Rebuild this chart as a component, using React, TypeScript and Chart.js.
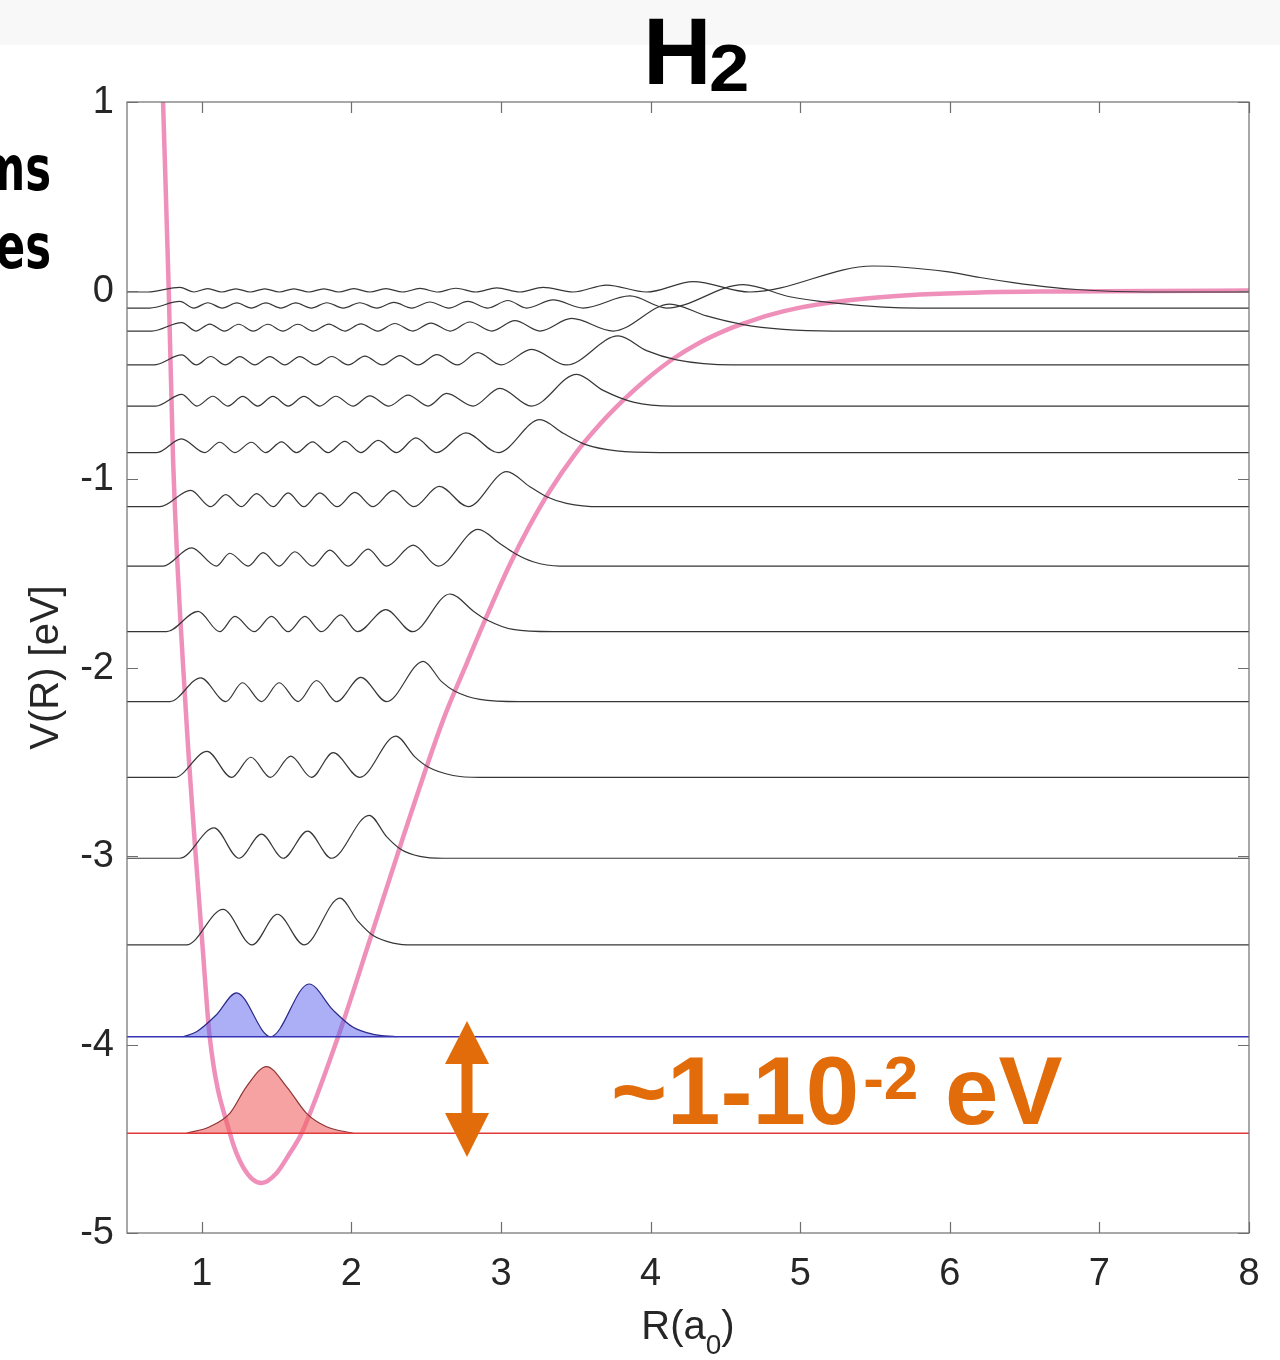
import React, { useEffect, useRef } from "react";
import { Chart, registerables } from "chart.js";

Chart.register(...registerables);

// ---------- axes ----------
const X_MIN = 0.5;
const X_MAX = 8;
const Y_MIN = -5;
const Y_MAX = 1;
const xTickValues = [1, 2, 3, 4, 5, 6, 7, 8];
const yTickValues = [1, 0, -1, -2, -3, -4, -5];

// ---------- potential curve V(R) (pink) ----------
const potentialR = [0.73, 0.741, 0.779, 0.808, 0.893, 0.96, 1.007, 1.053, 1.187, 1.276, 1.399, 1.499, 1.588, 1.667, 1.911, 2.123, 2.346, 2.613, 2.758, 2.904, 3.059, 3.193, 3.327, 3.494, 3.661, 3.828, 3.975, 4.151, 4.33, 4.497, 4.619, 4.798, 4.998, 5.221, 5.533, 5.8, 6.202, 6.757, 7.338, 8.0];
const potentialV = [1.3, 1.0, 0.003, -0.899, -2.225, -3.005, -3.499, -3.96, -4.469, -4.65, -4.735, -4.683, -4.577, -4.471, -3.959, -3.446, -2.899, -2.279, -2.002, -1.729, -1.454, -1.245, -1.062, -0.869, -0.71, -0.574, -0.469, -0.362, -0.276, -0.213, -0.176, -0.129, -0.091, -0.062, -0.036, -0.021, -0.01, -0.005, -0.002, -0.0005];

// ---------- vibrational levels: energies (eV) ----------
const levelEnergies = [-4.471, -3.959, -3.472, -3.012, -2.583, -2.181, -1.81, -1.462, -1.147, -0.86, -0.613, -0.395, -0.215, -0.093, -0.008];

// ---------- densities: R positions and heights above each level ----------
const v0R = [0.898, 1.053, 1.187, 1.299, 1.433, 1.566, 1.7, 1.834, 2.012];
const v0H = [0, 0.035, 0.106, 0.248, 0.354, 0.248, 0.106, 0.035, 0];

const v1R = [0.875, 0.965, 1.098, 1.232, 1.459, 1.717, 1.878, 2.012, 2.146, 2.302];
const v1H = [0, 0.027, 0.117, 0.233, 0, 0.28, 0.141, 0.05, 0.013, 0];

const v2R = [0.5, 0.898, 1.142, 1.336, 1.506, 1.684, 1.923, 2.045, 2.145, 2.279, 2.413, 8.0];
const v2H = [0, 0, 0.189, 0, 0.163, 0, 0.248, 0.125, 0.05, 0.01, 0, 0];

const v3R = [0.5, 0.853, 1.082, 1.249, 1.399, 1.544, 1.707, 1.867, 2.119, 2.235, 2.335, 2.458, 2.613, 8.0];
const v3H = [0, 0, 0.161, 0, 0.128, 0, 0.144, 0, 0.228, 0.115, 0.045, 0.01, 0, 0];

const v4R = [0.5, 0.819, 1.035, 1.199, 1.328, 1.459, 1.595, 1.733, 1.878, 2.056, 2.297, 2.424, 2.513, 2.68, 2.859, 8.0];
const v4H = [0, 0, 0.138, 0, 0.107, 0, 0.113, 0, 0.131, 0, 0.219, 0.109, 0.055, 0.01, 0, 0];

const v5R = [0.5, 0.786, 0.993, 1.16, 1.272, 1.399, 1.517, 1.644, 1.767, 1.901, 2.063, 2.235, 2.48, 2.603, 2.692, 2.859, 3.126, 8.0];
const v5H = [0, 0, 0.126, 0, 0.1, 0, 0.1, 0, 0.112, 0, 0.129, 0, 0.214, 0.106, 0.055, 0.012, 0, 0];

const v6R = [0.5, 0.764, 0.975, 1.12, 1.221, 1.35, 1.466, 1.577, 1.689, 1.8, 1.929, 2.041, 2.23, 2.409, 2.658, 2.825, 2.9, 3.08, 3.347, 8.0];
const v6H = [0, 0, 0.108, 0, 0.081, 0, 0.081, 0, 0.081, 0, 0.089, 0, 0.117, 0, 0.2, 0.103, 0.065, 0.012, 0, 0];

const v7R = [0.5, 0.741, 0.931, 1.098, 1.187, 1.31, 1.41, 1.517, 1.622, 1.74, 1.856, 1.978, 2.112, 2.235, 2.413, 2.58, 2.847, 2.992, 3.093, 3.215, 3.394, 8.0];
const v7H = [0, 0, 0.097, 0, 0.068, 0, 0.071, 0, 0.076, 0, 0.085, 0, 0.09, 0, 0.111, 0, 0.195, 0.12, 0.067, 0.023, 0, 0];

const v8R = [0.5, 0.719, 0.926, 1.06, 1.16, 1.265, 1.366, 1.477, 1.577, 1.682, 1.789, 1.905, 2.023, 2.145, 2.279, 2.417, 2.587, 2.78, 3.038, 3.193, 3.305, 3.438, 3.661, 8.0];
const v8H = [0, 0, 0.087, 0, 0.064, 0, 0.069, 0, 0.073, 0, 0.073, 0, 0.076, 0, 0.085, 0, 0.108, 0, 0.186, 0.106, 0.053, 0.018, 0, 0];

const v9R = [0.5, 0.699, 0.864, 1.02, 1.12, 1.221, 1.332, 1.426, 1.533, 1.633, 1.74, 1.844, 1.956, 2.063, 2.179, 2.302, 2.431, 2.569, 2.765, 2.981, 3.26, 3.416, 3.572, 3.773, 4.062, 8.0];
const v9H = [0, 0, 0.073, 0, 0.055, 0, 0.055, 0, 0.057, 0, 0.057, 0, 0.06, 0, 0.065, 0, 0.078, 0, 0.105, 0, 0.175, 0.103, 0.041, 0.009, 0, 0];

const v10R = [0.5, 0.692, 0.866, 0.967, 1.074, 1.174, 1.274, 1.374, 1.475, 1.578, 1.682, 1.789, 1.896, 2.01, 2.123, 2.25, 2.379, 2.513, 2.636, 2.814, 2.992, 3.204, 3.505, 3.683, 3.884, 4.151, 8.0];
const v10H = [0, 0, 0.062, 0, 0.052, 0, 0.051, 0, 0.051, 0, 0.051, 0, 0.052, 0, 0.054, 0, 0.058, 0, 0.067, 0, 0.094, 0, 0.168, 0.083, 0.021, 0, 0];

const v11R = [0.5, 0.679, 0.866, 0.963, 1.06, 1.157, 1.254, 1.354, 1.455, 1.555, 1.655, 1.762, 1.869, 1.979, 2.09, 2.207, 2.324, 2.447, 2.571, 2.708, 2.845, 3.0, 3.204, 3.438, 3.783, 3.973, 4.174, 4.552, 8.0];
const v11H = [0, 0, 0.053, 0, 0.045, 0, 0.044, 0, 0.044, 0, 0.044, 0, 0.045, 0, 0.047, 0, 0.05, 0, 0.055, 0, 0.065, 0, 0.083, 0, 0.154, 0.076, 0.027, 0, 0];

const v12R = [0.5, 0.666, 0.866, 0.96, 1.053, 1.15, 1.247, 1.344, 1.441, 1.542, 1.642, 1.745, 1.849, 1.956, 2.063, 2.177, 2.29, 2.411, 2.531, 2.661, 2.792, 2.939, 3.093, 3.26, 3.472, 3.75, 4.129, 4.374, 4.619, 4.887, 5.221, 8.0];
const v12H = [0, 0, 0.045, 0, 0.037, 0, 0.036, 0, 0.036, 0, 0.036, 0, 0.037, 0, 0.038, 0, 0.04, 0, 0.042, 0, 0.048, 0, 0.055, 0, 0.067, 0, 0.143, 0.08, 0.034, 0.009, 0, 0];

const v13R = [0.5, 0.652, 0.853, 0.947, 1.04, 1.137, 1.234, 1.331, 1.428, 1.528, 1.628, 1.732, 1.836, 1.946, 2.056, 2.17, 2.284, 2.404, 2.524, 2.651, 2.778, 2.912, 3.046, 3.171, 3.349, 3.549, 3.862, 4.107, 4.619, 4.931, 5.221, 5.555, 5.8, 8.0];
const v13H = [0, 0, 0.035, 0, 0.028, 0, 0.027, 0, 0.027, 0, 0.027, 0, 0.028, 0, 0.028, 0, 0.03, 0, 0.032, 0, 0.035, 0, 0.04, 0, 0.043, 0, 0.064, 0, 0.124, 0.06, 0.027, 0.005, 0, 0];

const v14R = [0.5, 0.639, 0.853, 0.947, 1.04, 1.134, 1.227, 1.324, 1.421, 1.518, 1.615, 1.715, 1.816, 1.916, 2.016, 2.123, 2.23, 2.344, 2.458, 2.578, 2.698, 2.832, 2.972, 3.126, 3.282, 3.482, 3.706, 3.973, 4.285, 4.664, 5.488, 5.979, 6.202, 6.424, 6.648, 6.87, 7.316, 8.0];
const v14H = [0, 0, 0.025, 0, 0.018, 0, 0.017, 0, 0.017, 0, 0.017, 0, 0.017, 0, 0.018, 0, 0.018, 0, 0.019, 0, 0.02, 0, 0.022, 0, 0.025, 0, 0.037, 0, 0.055, 0, 0.138, 0.108, 0.077, 0.05, 0.027, 0.012, 0, 0];

const blackLevelR = [v2R, v3R, v4R, v5R, v6R, v7R, v8R, v9R, v10R, v11R, v12R, v13R, v14R];
const blackLevelH = [v2H, v3H, v4H, v5H, v6H, v7H, v8H, v9H, v10H, v11H, v12H, v13H, v14H];

// ---------- text ----------
const titleMain = "H";
const titleSub = "2";
const xTitleMain = "R(a";
const xTitleSub = "0";
const xTitleEnd = ")";
const yTitle = "V(R) [eV]";
const noteMain = "~1-10";
const noteSup = "-2";
const noteEnd = " eV";
const sideWords = ["ms", "es"];

const FONT = "'Liberation Sans', Arial, Helvetica, sans-serif";
const ORANGE = "#e36c0a";
const AXIS_GRAY = "#6e6e6e";
const LABEL_COLOR = "#262626";

const toPoints = (R: number[], H: number[], E: number) => R.map((r, i) => ({ x: r, y: E + H[i] }));

const overlayPlugin = {
  id: "overlay",
  beforeDraw(chart: any) {
    const { ctx, width, height } = chart;
    ctx.save();
    ctx.fillStyle = "#ffffff";
    ctx.fillRect(0, 0, width, height);
    ctx.fillStyle = "#f8f8f8";
    ctx.fillRect(0, 0, width, 45);
    ctx.restore();
  },
  afterDatasetsDraw(chart: any) {
    const { ctx, chartArea: ca } = chart;
    const xs = chart.scales.x;
    const ys = chart.scales.y;
    ctx.save();
    ctx.strokeStyle = AXIS_GRAY;
    ctx.lineWidth = 1.2;
    ctx.strokeRect(ca.left, ca.top, ca.right - ca.left, ca.bottom - ca.top);
    const tl = 11;
    ctx.beginPath();
    xTickValues.forEach((v) => {
      const px = Math.round(xs.getPixelForValue(v)) + 0.5;
      ctx.moveTo(px, ca.bottom);
      ctx.lineTo(px, ca.bottom - tl);
      ctx.moveTo(px, ca.top);
      ctx.lineTo(px, ca.top + tl);
    });
    yTickValues.forEach((v) => {
      const py = Math.round(ys.getPixelForValue(v)) + 0.5;
      ctx.moveTo(ca.left, py);
      ctx.lineTo(ca.left + tl, py);
      ctx.moveTo(ca.right, py);
      ctx.lineTo(ca.right - tl, py);
    });
    ctx.stroke();

    // tick labels
    ctx.fillStyle = LABEL_COLOR;
    ctx.font = `38px ${FONT}`;
    ctx.textAlign = "center";
    ctx.textBaseline = "alphabetic";
    xTickValues.forEach((v) => {
      ctx.fillText(String(v), xs.getPixelForValue(v), ca.bottom + 52);
    });
    ctx.textAlign = "right";
    ctx.textBaseline = "middle";
    yTickValues.forEach((v) => {
      ctx.fillText(String(v), ca.left - 13, ys.getPixelForValue(v) + 1);
    });

    // x title with subscript
    const bigF = `40px ${FONT}`;
    const smallF = `28px ${FONT}`;
    ctx.textAlign = "left";
    ctx.textBaseline = "alphabetic";
    ctx.font = bigF;
    const w1 = ctx.measureText(xTitleMain).width;
    const w3 = ctx.measureText(xTitleEnd).width;
    ctx.font = smallF;
    const w2 = ctx.measureText(xTitleSub).width;
    let x0 = (ca.left + ca.right) / 2 - (w1 + w2 + w3) / 2;
    const base = ca.bottom + 106;
    ctx.font = bigF;
    ctx.fillText(xTitleMain, x0, base);
    x0 += w1;
    ctx.font = smallF;
    ctx.fillText(xTitleSub, x0, base + 15);
    x0 += w2;
    ctx.font = bigF;
    ctx.fillText(xTitleEnd, x0, base);

    // y title
    ctx.save();
    ctx.translate(47, (ca.top + ca.bottom) / 2);
    ctx.rotate(-Math.PI / 2);
    ctx.textAlign = "center";
    ctx.textBaseline = "middle";
    ctx.font = `40px ${FONT}`;
    ctx.fillText(yTitle, 0, 0);
    ctx.restore();
    ctx.restore();
  },
  afterDraw(chart: any) {
    const { ctx } = chart;
    ctx.save();
    // title H2
    ctx.fillStyle = "#000000";
    ctx.textAlign = "left";
    ctx.textBaseline = "alphabetic";
    ctx.font = `bold 95px ${FONT}`;
    ctx.fillText(titleMain, 643, 84);
    ctx.save();
    ctx.translate(709, 91);
    ctx.scale(1.1, 1);
    ctx.font = `bold 66px ${FONT}`;
    ctx.fillText(titleSub, 0, 0);
    ctx.restore();

    // cut-off side words
    ctx.save();
    ctx.scale(0.7, 1);
    ctx.font = `bold 62px 'DejaVu Sans', sans-serif`;
    ctx.textAlign = "right";
    ctx.fillText(sideWords[0], 51 / 0.7, 190);
    ctx.fillText(sideWords[1], 51 / 0.7, 268);
    ctx.restore();

    // double arrow
    ctx.fillStyle = ORANGE;
    ctx.beginPath();
    ctx.moveTo(467, 1021);
    ctx.lineTo(489, 1064);
    ctx.lineTo(472.5, 1064);
    ctx.lineTo(472.5, 1113);
    ctx.lineTo(489, 1113);
    ctx.lineTo(467, 1157);
    ctx.lineTo(445, 1113);
    ctx.lineTo(461.5, 1113);
    ctx.lineTo(461.5, 1064);
    ctx.lineTo(445, 1064);
    ctx.closePath();
    ctx.fill();

    // note text
    let x = 611;
    ctx.textAlign = "left";
    ctx.font = `bold 96px ${FONT}`;
    ctx.fillText(noteMain, x, 1124);
    x += ctx.measureText(noteMain).width + 4;
    ctx.font = `bold 62px ${FONT}`;
    ctx.fillText(noteSup, x, 1099);
    x += ctx.measureText(noteSup).width;
    ctx.font = `bold 96px ${FONT}`;
    ctx.fillText(noteEnd, x, 1124);
    ctx.restore();
  },
};

export default function App() {
  const ref = useRef<HTMLCanvasElement>(null);

  useEffect(() => {
    if (!ref.current) return;
    const datasets: any[] = [];

    blackLevelR.forEach((R, i) => {
      datasets.push({
        data: toPoints(R, blackLevelH[i], levelEnergies[i + 2]),
        borderColor: "#363636",
        borderWidth: 1.2,
        fill: false,
        pointRadius: 0,
        cubicInterpolationMode: "monotone",
        order: 0,
      });
    });

    // blue level (v=1)
    datasets.push({
      data: [{ x: X_MIN, y: levelEnergies[1] }, { x: X_MAX, y: levelEnergies[1] }],
      borderColor: "#3535b5",
      borderWidth: 1.4,
      pointRadius: 0,
      fill: false,
      order: 0,
    });
    datasets.push({
      data: toPoints(v1R, v1H, levelEnergies[1]),
      borderColor: "#2a2a8a",
      borderWidth: 1.2,
      pointRadius: 0,
      fill: { value: levelEnergies[1] },
      backgroundColor: "rgba(90,95,235,0.5)",
      cubicInterpolationMode: "monotone",
      order: 0,
    });

    // red level (v=0)
    datasets.push({
      data: [{ x: X_MIN, y: levelEnergies[0] }, { x: X_MAX, y: levelEnergies[0] }],
      borderColor: "#e23a3a",
      borderWidth: 1.5,
      pointRadius: 0,
      fill: false,
      order: 0,
    });
    datasets.push({
      data: toPoints(v0R, v0H, levelEnergies[0]),
      borderColor: "#8e3434",
      borderWidth: 1.2,
      pointRadius: 0,
      fill: { value: levelEnergies[0] },
      backgroundColor: "rgba(240,100,100,0.6)",
      cubicInterpolationMode: "monotone",
      order: 0,
    });

    // potential curve
    datasets.push({
      data: potentialR.map((r, i) => ({ x: r, y: potentialV[i] })),
      borderColor: "rgba(236,120,172,0.82)",
      borderWidth: 4.5,
      pointRadius: 0,
      fill: false,
      cubicInterpolationMode: "monotone",
      clip: 0,
      order: 10,
    });

    const chart = new Chart(ref.current, {
      type: "line",
      data: { datasets },
      options: {
        responsive: false,
        animation: false,
        devicePixelRatio: 1,
        layout: { padding: { left: 127, top: 102, right: 31, bottom: 127 } },
        plugins: {
          legend: { display: false },
          tooltip: { enabled: false },
          title: { display: false },
        },
        scales: {
          x: { type: "linear", min: X_MIN, max: X_MAX, display: false },
          y: { type: "linear", min: Y_MIN, max: Y_MAX, display: false },
        },
        elements: { point: { radius: 0 } },
      },
      plugins: [overlayPlugin],
    } as any);

    return () => chart.destroy();
  }, []);

  return (
    <div style={{ position: "absolute", left: 0, top: 0, width: 1280, height: 1360, background: "#ffffff" }}>
      <canvas ref={ref} width={1280} height={1360} style={{ display: "block", width: 1280, height: 1360 }} />
    </div>
  );
}
